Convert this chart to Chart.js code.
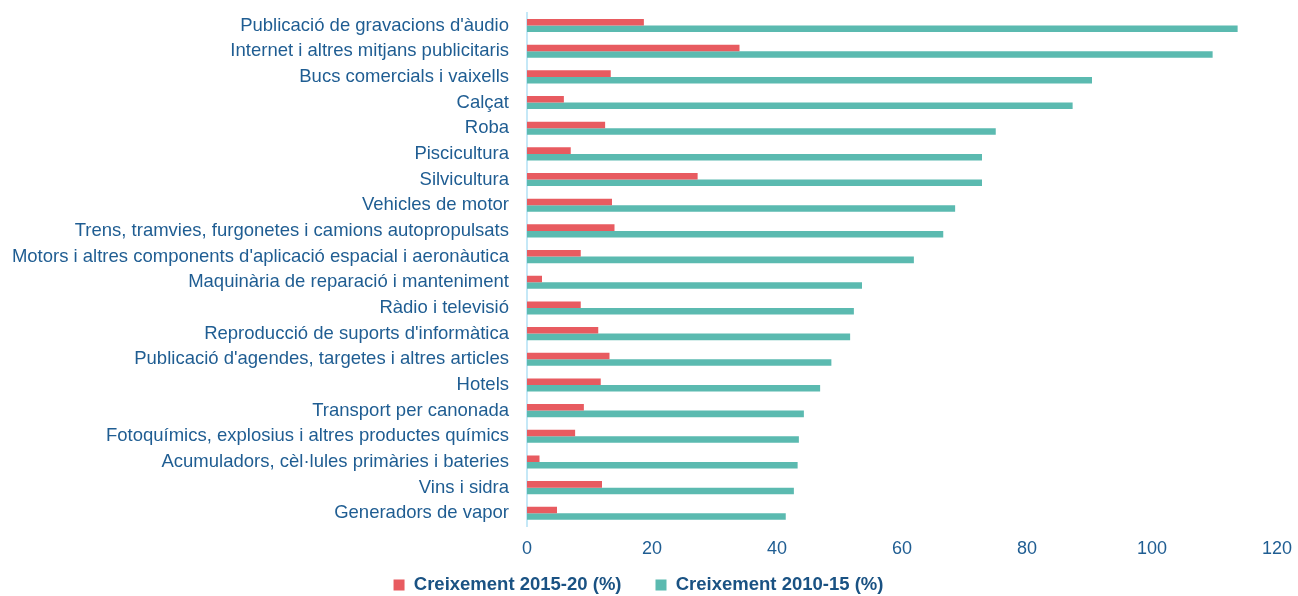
<!DOCTYPE html>
<html>
<head>
<meta charset="utf-8">
<script src="https://cdn.jsdelivr.net/npm/chart.js@4/dist/chart.umd.min.js"></script>
<style>
html,body{margin:0;padding:0;background:#fff;}
#wrap{width:1298px;height:596px;position:relative;}
</style>
</head>
<body>
<div id="wrap"><canvas id="c"></canvas></div>
<script>
const categories = [
  "Publicació de gravacions d'àudio",
  "Internet i altres mitjans publicitaris",
  "Bucs comercials i vaixells",
  "Calçat",
  "Roba",
  "Piscicultura",
  "Silvicultura",
  "Vehicles de motor",
  "Trens, tramvies, furgonetes i camions autopropulsats",
  "Motors i altres components d'aplicació espacial i aeronàutica",
  "Maquinària de reparació i manteniment",
  "Ràdio i televisió",
  "Reproducció de suports d'informàtica",
  "Publicació d'agendes, targetes i altres articles",
  "Hotels",
  "Transport per canonada",
  "Fotoquímics, explosius i altres productes químics",
  "Acumuladors, cèl·lules primàries i bateries",
  "Vins i sidra",
  "Generadors de vapor"
];
const growth2015_20 = [18.7, 34.0, 13.4, 5.9, 12.5, 7.0, 27.3, 13.6, 14.0, 8.6, 2.4, 8.6, 11.4, 13.2, 11.8, 9.1, 7.7, 2.0, 12.0, 4.8];
const growth2010_15 = [113.7, 109.7, 90.4, 87.3, 75.0, 72.8, 72.8, 68.5, 66.6, 61.9, 53.6, 52.3, 51.7, 48.7, 46.9, 44.3, 43.5, 43.3, 42.7, 41.4];
const seriesNames = ["Creixement 2015-20 (%)", "Creixement 2010-15 (%)"];
const xTicks = [0, 20, 40, 60, 80, 100, 120];

const FONT = "'Liberation Sans', Arial, sans-serif";
const TEXT = '#1f5d92';

new Chart(document.getElementById('c'), {
  type: 'bar',
  data: {
    labels: categories,
    datasets: [
      { label: seriesNames[0], data: growth2015_20, backgroundColor: '#e85b60', borderWidth: 0,
        barPercentage: 1, categoryPercentage: 0.51 },
      { label: seriesNames[1], data: growth2010_15, backgroundColor: '#5bbab0', borderWidth: 0,
        barPercentage: 1, categoryPercentage: 0.51 }
    ]
  },
  options: {
    indexAxis: 'y',
    responsive: true,
    maintainAspectRatio: false,
    animation: false,
    layout: { padding: { top: 12.7, right: 21, left: 0, bottom: -8.25 } },
    scales: {
      y: {
        grid: { display: false, drawTicks: false },
        border: { display: true, color: '#c5e8f7', width: 2 },
        ticks: { color: TEXT, font: { family: FONT, size: 18.5 }, padding: 18, autoSkip: false },
        afterFit: (s) => { s.width = 527; s.paddingTop = 0; s.paddingBottom = 0; }
      },
      x: {
        min: 0, max: 120,
        afterBuildTicks: (s) => { s.ticks = xTicks.map(v => ({ value: v })); },
        grid: { display: false, drawTicks: false },
        border: { display: false },
        ticks: { color: TEXT, font: { family: FONT, size: 18 }, padding: 12 },
        afterFit: (s) => {
          s.height = 15.6; s.paddingLeft = 0; s.paddingRight = 0;
          s._computeLabelArea = () => undefined;
        }
      }
    },
    plugins: {
      tooltip: { enabled: false },
      legend: {
        position: 'bottom',
        labels: {
          boxWidth: 11, boxHeight: 11, padding: 34,
          color: '#1a5283',
          font: { family: FONT, size: 18.5, weight: 'bold' }
        }
      }
    }
  }
});
</script>
</body>
</html>
